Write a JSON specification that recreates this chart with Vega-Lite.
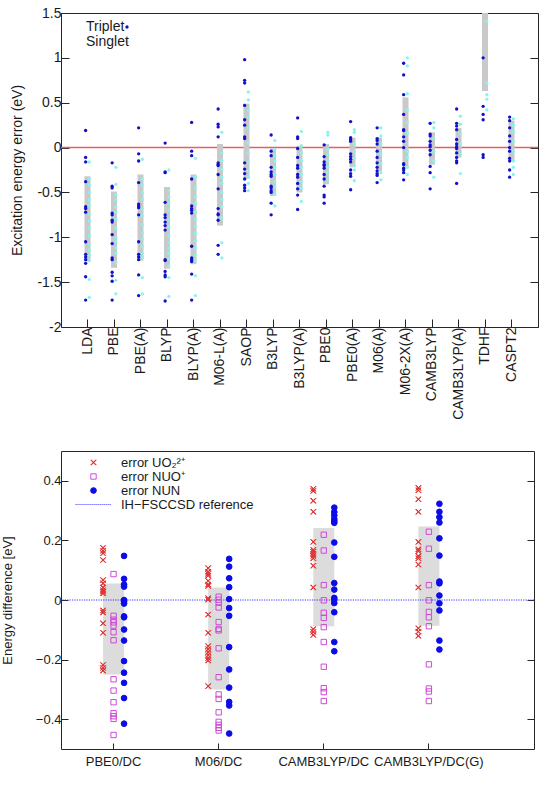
{
  "$schema": "https://vega.github.io/schema/vega-lite/v6.json",
  "background": "white",
  "padding": {"left": 0, "top": 5, "right": 2, "bottom": 2},
  "bounds": "flush",
  "spacing": 124,
  "resolve": {"scale": {"xOffset": "independent", "color": "independent", "stroke": "independent", "shape": "independent", "fill": "independent", "size": "independent"}},
  "config": {
    "font": "Liberation Sans",
    "view": {"stroke": "#262626", "strokeWidth": 1},
    "axis": {"grid": false, "domain": false, "labelColor": "#1a1a1a", "titleColor": "#1a1a1a", "tickColor": "#262626", "titleFontWeight": "normal"}
  },
  "datasets": {
    "exc": [
      {"m":"LDA","s":"S","v":-0.16},{"m":"LDA","s":"S","v":-0.35},{"m":"LDA","s":"S","v":-0.42},{"m":"LDA","s":"S","v":-0.5},{"m":"LDA","s":"S","v":-0.58},{"m":"LDA","s":"S","v":-0.64},{"m":"LDA","s":"S","v":-0.74},{"m":"LDA","s":"S","v":-0.82},{"m":"LDA","s":"S","v":-0.9},{"m":"LDA","s":"S","v":-0.98},{"m":"LDA","s":"S","v":-1.08},{"m":"LDA","s":"S","v":-1.14},{"m":"LDA","s":"S","v":-1.2},{"m":"LDA","s":"S","v":-1.26},{"m":"LDA","s":"S","v":-1.47},{"m":"LDA","s":"S","v":-1.67},
      {"m":"LDA","s":"T","v":0.19},{"m":"LDA","s":"T","v":-0.11},{"m":"LDA","s":"T","v":-0.16},{"m":"LDA","s":"T","v":-0.38},{"m":"LDA","s":"T","v":-0.66},{"m":"LDA","s":"T","v":-0.68},{"m":"LDA","s":"T","v":-0.72},{"m":"LDA","s":"T","v":-1.05},{"m":"LDA","s":"T","v":-1.19},{"m":"LDA","s":"T","v":-1.22},{"m":"LDA","s":"T","v":-1.25},{"m":"LDA","s":"T","v":-1.29},{"m":"LDA","s":"T","v":-1.44},{"m":"LDA","s":"T","v":-1.7},
      {"m":"PBE","s":"S","v":-0.22},{"m":"PBE","s":"S","v":-0.41},{"m":"PBE","s":"S","v":-0.52},{"m":"PBE","s":"S","v":-0.58},{"m":"PBE","s":"S","v":-0.66},{"m":"PBE","s":"S","v":-0.72},{"m":"PBE","s":"S","v":-0.8},{"m":"PBE","s":"S","v":-0.9},{"m":"PBE","s":"S","v":-1.0},{"m":"PBE","s":"S","v":-1.05},{"m":"PBE","s":"S","v":-1.12},{"m":"PBE","s":"S","v":-1.18},{"m":"PBE","s":"S","v":-1.28},{"m":"PBE","s":"S","v":-1.48},{"m":"PBE","s":"S","v":-1.63},
      {"m":"PBE","s":"T","v":-0.17},{"m":"PBE","s":"T","v":-0.43},{"m":"PBE","s":"T","v":-0.45},{"m":"PBE","s":"T","v":-0.73},{"m":"PBE","s":"T","v":-0.75},{"m":"PBE","s":"T","v":-0.81},{"m":"PBE","s":"T","v":-0.83},{"m":"PBE","s":"T","v":-0.97},{"m":"PBE","s":"T","v":-1.07},{"m":"PBE","s":"T","v":-1.23},{"m":"PBE","s":"T","v":-1.25},{"m":"PBE","s":"T","v":-1.39},{"m":"PBE","s":"T","v":-1.43},{"m":"PBE","s":"T","v":-1.49},{"m":"PBE","s":"T","v":-1.7},
      {"m":"PBE(A)","s":"S","v":-0.13},{"m":"PBE(A)","s":"S","v":-0.35},{"m":"PBE(A)","s":"S","v":-0.42},{"m":"PBE(A)","s":"S","v":-0.5},{"m":"PBE(A)","s":"S","v":-0.58},{"m":"PBE(A)","s":"S","v":-0.68},{"m":"PBE(A)","s":"S","v":-0.76},{"m":"PBE(A)","s":"S","v":-0.86},{"m":"PBE(A)","s":"S","v":-0.95},{"m":"PBE(A)","s":"S","v":-1.02},{"m":"PBE(A)","s":"S","v":-1.1},{"m":"PBE(A)","s":"S","v":-1.18},{"m":"PBE(A)","s":"S","v":-1.22},{"m":"PBE(A)","s":"S","v":-1.45},{"m":"PBE(A)","s":"S","v":-1.63},
      {"m":"PBE(A)","s":"T","v":0.22},{"m":"PBE(A)","s":"T","v":-0.07},{"m":"PBE(A)","s":"T","v":-0.15},{"m":"PBE(A)","s":"T","v":-0.39},{"m":"PBE(A)","s":"T","v":-0.63},{"m":"PBE(A)","s":"T","v":-0.65},{"m":"PBE(A)","s":"T","v":-0.67},{"m":"PBE(A)","s":"T","v":-0.75},{"m":"PBE(A)","s":"T","v":-1.05},{"m":"PBE(A)","s":"T","v":-1.19},{"m":"PBE(A)","s":"T","v":-1.22},{"m":"PBE(A)","s":"T","v":-1.25},{"m":"PBE(A)","s":"T","v":-1.42},{"m":"PBE(A)","s":"T","v":-1.65},
      {"m":"BLYP","s":"S","v":-0.25},{"m":"BLYP","s":"S","v":-0.48},{"m":"BLYP","s":"S","v":-0.55},{"m":"BLYP","s":"S","v":-0.62},{"m":"BLYP","s":"S","v":-0.7},{"m":"BLYP","s":"S","v":-0.8},{"m":"BLYP","s":"S","v":-0.88},{"m":"BLYP","s":"S","v":-0.98},{"m":"BLYP","s":"S","v":-1.06},{"m":"BLYP","s":"S","v":-1.12},{"m":"BLYP","s":"S","v":-1.18},{"m":"BLYP","s":"S","v":-1.24},{"m":"BLYP","s":"S","v":-1.32},{"m":"BLYP","s":"S","v":-1.45},{"m":"BLYP","s":"S","v":-1.66},
      {"m":"BLYP","s":"T","v":0.05},{"m":"BLYP","s":"T","v":-0.27},{"m":"BLYP","s":"T","v":-0.28},{"m":"BLYP","s":"T","v":-0.61},{"m":"BLYP","s":"T","v":-0.75},{"m":"BLYP","s":"T","v":-0.78},{"m":"BLYP","s":"T","v":-0.83},{"m":"BLYP","s":"T","v":-0.87},{"m":"BLYP","s":"T","v":-0.92},{"m":"BLYP","s":"T","v":-1.25},{"m":"BLYP","s":"T","v":-1.26},{"m":"BLYP","s":"T","v":-1.38},{"m":"BLYP","s":"T","v":-1.42},{"m":"BLYP","s":"T","v":-1.44},{"m":"BLYP","s":"T","v":-1.71},
      {"m":"BLYP(A)","s":"S","v":-0.12},{"m":"BLYP(A)","s":"S","v":-0.33},{"m":"BLYP(A)","s":"S","v":-0.45},{"m":"BLYP(A)","s":"S","v":-0.55},{"m":"BLYP(A)","s":"S","v":-0.62},{"m":"BLYP(A)","s":"S","v":-0.72},{"m":"BLYP(A)","s":"S","v":-0.8},{"m":"BLYP(A)","s":"S","v":-0.88},{"m":"BLYP(A)","s":"S","v":-0.96},{"m":"BLYP(A)","s":"S","v":-1.04},{"m":"BLYP(A)","s":"S","v":-1.12},{"m":"BLYP(A)","s":"S","v":-1.2},{"m":"BLYP(A)","s":"S","v":-1.26},{"m":"BLYP(A)","s":"S","v":-1.43},{"m":"BLYP(A)","s":"S","v":-1.65},
      {"m":"BLYP(A)","s":"T","v":0.28},{"m":"BLYP(A)","s":"T","v":-0.04},{"m":"BLYP(A)","s":"T","v":-0.09},{"m":"BLYP(A)","s":"T","v":-0.35},{"m":"BLYP(A)","s":"T","v":-0.65},{"m":"BLYP(A)","s":"T","v":-0.68},{"m":"BLYP(A)","s":"T","v":-0.7},{"m":"BLYP(A)","s":"T","v":-0.73},{"m":"BLYP(A)","s":"T","v":-1.1},{"m":"BLYP(A)","s":"T","v":-1.23},{"m":"BLYP(A)","s":"T","v":-1.25},{"m":"BLYP(A)","s":"T","v":-1.27},{"m":"BLYP(A)","s":"T","v":-1.41},{"m":"BLYP(A)","s":"T","v":-1.7},
      {"m":"M06-L(A)","s":"S","v":0.17},{"m":"M06-L(A)","s":"S","v":-0.06},{"m":"M06-L(A)","s":"S","v":-0.14},{"m":"M06-L(A)","s":"S","v":-0.24},{"m":"M06-L(A)","s":"S","v":-0.33},{"m":"M06-L(A)","s":"S","v":-0.4},{"m":"M06-L(A)","s":"S","v":-0.5},{"m":"M06-L(A)","s":"S","v":-0.58},{"m":"M06-L(A)","s":"S","v":-0.66},{"m":"M06-L(A)","s":"S","v":-0.78},{"m":"M06-L(A)","s":"S","v":-1.06},{"m":"M06-L(A)","s":"S","v":-1.23},
      {"m":"M06-L(A)","s":"T","v":0.43},{"m":"M06-L(A)","s":"T","v":0.26},{"m":"M06-L(A)","s":"T","v":0.23},{"m":"M06-L(A)","s":"T","v":0.12},{"m":"M06-L(A)","s":"T","v":-0.17},{"m":"M06-L(A)","s":"T","v":-0.19},{"m":"M06-L(A)","s":"T","v":-0.2},{"m":"M06-L(A)","s":"T","v":-0.3},{"m":"M06-L(A)","s":"T","v":-0.46},{"m":"M06-L(A)","s":"T","v":-0.68},{"m":"M06-L(A)","s":"T","v":-0.74},{"m":"M06-L(A)","s":"T","v":-0.75},{"m":"M06-L(A)","s":"T","v":-0.81},{"m":"M06-L(A)","s":"T","v":-1.09},{"m":"M06-L(A)","s":"T","v":-1.19},
      {"m":"SAOP","s":"S","v":0.62},{"m":"SAOP","s":"S","v":0.53},{"m":"SAOP","s":"S","v":0.42},{"m":"SAOP","s":"S","v":0.34},{"m":"SAOP","s":"S","v":0.22},{"m":"SAOP","s":"S","v":0.05},{"m":"SAOP","s":"S","v":-0.06},{"m":"SAOP","s":"S","v":-0.16},{"m":"SAOP","s":"S","v":-0.26},{"m":"SAOP","s":"S","v":-0.33},{"m":"SAOP","s":"S","v":-0.4},{"m":"SAOP","s":"S","v":-0.48},
      {"m":"SAOP","s":"T","v":0.98},{"m":"SAOP","s":"T","v":0.75},{"m":"SAOP","s":"T","v":0.72},{"m":"SAOP","s":"T","v":0.47},{"m":"SAOP","s":"T","v":0.31},{"m":"SAOP","s":"T","v":0.25},{"m":"SAOP","s":"T","v":0.12},{"m":"SAOP","s":"T","v":0.1},{"m":"SAOP","s":"T","v":-0.17},{"m":"SAOP","s":"T","v":-0.24},{"m":"SAOP","s":"T","v":-0.29},{"m":"SAOP","s":"T","v":-0.35},{"m":"SAOP","s":"T","v":-0.42},{"m":"SAOP","s":"T","v":-0.45},{"m":"SAOP","s":"T","v":-0.48},
      {"m":"B3LYP","s":"S","v":0.08},{"m":"B3LYP","s":"S","v":-0.02},{"m":"B3LYP","s":"S","v":-0.09},{"m":"B3LYP","s":"S","v":-0.15},{"m":"B3LYP","s":"S","v":-0.22},{"m":"B3LYP","s":"S","v":-0.3},{"m":"B3LYP","s":"S","v":-0.38},{"m":"B3LYP","s":"S","v":-0.44},{"m":"B3LYP","s":"S","v":-0.52},{"m":"B3LYP","s":"S","v":-0.65},
      {"m":"B3LYP","s":"T","v":0.14},{"m":"B3LYP","s":"T","v":-0.04},{"m":"B3LYP","s":"T","v":-0.09},{"m":"B3LYP","s":"T","v":-0.22},{"m":"B3LYP","s":"T","v":-0.27},{"m":"B3LYP","s":"T","v":-0.3},{"m":"B3LYP","s":"T","v":-0.32},{"m":"B3LYP","s":"T","v":-0.43},{"m":"B3LYP","s":"T","v":-0.45},{"m":"B3LYP","s":"T","v":-0.48},{"m":"B3LYP","s":"T","v":-0.5},{"m":"B3LYP","s":"T","v":-0.62},{"m":"B3LYP","s":"T","v":-0.75},
      {"m":"B3LYP(A)","s":"S","v":0.18},{"m":"B3LYP(A)","s":"S","v":0.02},{"m":"B3LYP(A)","s":"S","v":-0.06},{"m":"B3LYP(A)","s":"S","v":-0.14},{"m":"B3LYP(A)","s":"S","v":-0.22},{"m":"B3LYP(A)","s":"S","v":-0.3},{"m":"B3LYP(A)","s":"S","v":-0.38},{"m":"B3LYP(A)","s":"S","v":-0.45},{"m":"B3LYP(A)","s":"S","v":-0.6},
      {"m":"B3LYP(A)","s":"T","v":0.33},{"m":"B3LYP(A)","s":"T","v":0.12},{"m":"B3LYP(A)","s":"T","v":0.1},{"m":"B3LYP(A)","s":"T","v":-0.01},{"m":"B3LYP(A)","s":"T","v":-0.11},{"m":"B3LYP(A)","s":"T","v":-0.2},{"m":"B3LYP(A)","s":"T","v":-0.23},{"m":"B3LYP(A)","s":"T","v":-0.3},{"m":"B3LYP(A)","s":"T","v":-0.33},{"m":"B3LYP(A)","s":"T","v":-0.4},{"m":"B3LYP(A)","s":"T","v":-0.46},{"m":"B3LYP(A)","s":"T","v":-0.53},{"m":"B3LYP(A)","s":"T","v":-0.69},
      {"m":"PBE0","s":"S","v":0.17},{"m":"PBE0","s":"S","v":0.14},{"m":"PBE0","s":"S","v":-0.02},{"m":"PBE0","s":"S","v":-0.08},{"m":"PBE0","s":"S","v":-0.14},{"m":"PBE0","s":"S","v":-0.22},{"m":"PBE0","s":"S","v":-0.28},{"m":"PBE0","s":"S","v":-0.36},
      {"m":"PBE0","s":"T","v":0.03},{"m":"PBE0","s":"T","v":-0.1},{"m":"PBE0","s":"T","v":-0.16},{"m":"PBE0","s":"T","v":-0.19},{"m":"PBE0","s":"T","v":-0.2},{"m":"PBE0","s":"T","v":-0.23},{"m":"PBE0","s":"T","v":-0.3},{"m":"PBE0","s":"T","v":-0.35},{"m":"PBE0","s":"T","v":-0.43},{"m":"PBE0","s":"T","v":-0.53},{"m":"PBE0","s":"T","v":-0.55},{"m":"PBE0","s":"T","v":-0.62},
      {"m":"PBE0(A)","s":"S","v":0.2},{"m":"PBE0(A)","s":"S","v":0.17},{"m":"PBE0(A)","s":"S","v":0.04},{"m":"PBE0(A)","s":"S","v":-0.04},{"m":"PBE0(A)","s":"S","v":-0.12},{"m":"PBE0(A)","s":"S","v":-0.2},{"m":"PBE0(A)","s":"S","v":-0.25},{"m":"PBE0(A)","s":"S","v":-0.37},
      {"m":"PBE0(A)","s":"T","v":0.29},{"m":"PBE0(A)","s":"T","v":0.11},{"m":"PBE0(A)","s":"T","v":0.09},{"m":"PBE0(A)","s":"T","v":0.07},{"m":"PBE0(A)","s":"T","v":-0.07},{"m":"PBE0(A)","s":"T","v":-0.1},{"m":"PBE0(A)","s":"T","v":-0.13},{"m":"PBE0(A)","s":"T","v":-0.16},{"m":"PBE0(A)","s":"T","v":-0.25},{"m":"PBE0(A)","s":"T","v":-0.29},{"m":"PBE0(A)","s":"T","v":-0.32},{"m":"PBE0(A)","s":"T","v":-0.47},
      {"m":"M06(A)","s":"S","v":0.22},{"m":"M06(A)","s":"S","v":0.13},{"m":"M06(A)","s":"S","v":0.04},{"m":"M06(A)","s":"S","v":-0.07},{"m":"M06(A)","s":"S","v":-0.18},{"m":"M06(A)","s":"S","v":-0.28},{"m":"M06(A)","s":"S","v":-0.36},
      {"m":"M06(A)","s":"T","v":0.22},{"m":"M06(A)","s":"T","v":0.1},{"m":"M06(A)","s":"T","v":0.08},{"m":"M06(A)","s":"T","v":0.04},{"m":"M06(A)","s":"T","v":-0.04},{"m":"M06(A)","s":"T","v":-0.11},{"m":"M06(A)","s":"T","v":-0.17},{"m":"M06(A)","s":"T","v":-0.22},{"m":"M06(A)","s":"T","v":-0.26},{"m":"M06(A)","s":"T","v":-0.29},{"m":"M06(A)","s":"T","v":-0.31},{"m":"M06(A)","s":"T","v":-0.39},
      {"m":"M06-2X(A)","s":"S","v":1.0},{"m":"M06-2X(A)","s":"S","v":0.91},{"m":"M06-2X(A)","s":"S","v":0.6},{"m":"M06-2X(A)","s":"S","v":0.42},{"m":"M06-2X(A)","s":"S","v":0.28},{"m":"M06-2X(A)","s":"S","v":0.16},{"m":"M06-2X(A)","s":"S","v":-0.04},{"m":"M06-2X(A)","s":"S","v":-0.11},{"m":"M06-2X(A)","s":"S","v":-0.22},{"m":"M06-2X(A)","s":"S","v":-0.3},
      {"m":"M06-2X(A)","s":"T","v":0.94},{"m":"M06-2X(A)","s":"T","v":0.81},{"m":"M06-2X(A)","s":"T","v":0.59},{"m":"M06-2X(A)","s":"T","v":0.37},{"m":"M06-2X(A)","s":"T","v":0.2},{"m":"M06-2X(A)","s":"T","v":0.19},{"m":"M06-2X(A)","s":"T","v":0.12},{"m":"M06-2X(A)","s":"T","v":0.07},{"m":"M06-2X(A)","s":"T","v":0.0},{"m":"M06-2X(A)","s":"T","v":-0.18},{"m":"M06-2X(A)","s":"T","v":-0.19},{"m":"M06-2X(A)","s":"T","v":-0.23},{"m":"M06-2X(A)","s":"T","v":-0.25},{"m":"M06-2X(A)","s":"T","v":-0.28},{"m":"M06-2X(A)","s":"T","v":-0.36},
      {"m":"CAMB3LYP","s":"S","v":0.28},{"m":"CAMB3LYP","s":"S","v":0.22},{"m":"CAMB3LYP","s":"S","v":0.1},{"m":"CAMB3LYP","s":"S","v":-0.04},{"m":"CAMB3LYP","s":"S","v":-0.15},{"m":"CAMB3LYP","s":"S","v":-0.33},
      {"m":"CAMB3LYP","s":"T","v":0.27},{"m":"CAMB3LYP","s":"T","v":0.15},{"m":"CAMB3LYP","s":"T","v":0.13},{"m":"CAMB3LYP","s":"T","v":0.07},{"m":"CAMB3LYP","s":"T","v":0.03},{"m":"CAMB3LYP","s":"T","v":0.01},{"m":"CAMB3LYP","s":"T","v":-0.03},{"m":"CAMB3LYP","s":"T","v":-0.08},{"m":"CAMB3LYP","s":"T","v":-0.21},{"m":"CAMB3LYP","s":"T","v":-0.28},{"m":"CAMB3LYP","s":"T","v":-0.46},
      {"m":"CAMB3LYP(A)","s":"S","v":0.35},{"m":"CAMB3LYP(A)","s":"S","v":0.26},{"m":"CAMB3LYP(A)","s":"S","v":0.15},{"m":"CAMB3LYP(A)","s":"S","v":0.04},{"m":"CAMB3LYP(A)","s":"S","v":-0.07},{"m":"CAMB3LYP(A)","s":"S","v":-0.29},
      {"m":"CAMB3LYP(A)","s":"T","v":0.43},{"m":"CAMB3LYP(A)","s":"T","v":0.27},{"m":"CAMB3LYP(A)","s":"T","v":0.24},{"m":"CAMB3LYP(A)","s":"T","v":0.2},{"m":"CAMB3LYP(A)","s":"T","v":0.09},{"m":"CAMB3LYP(A)","s":"T","v":0.04},{"m":"CAMB3LYP(A)","s":"T","v":0.01},{"m":"CAMB3LYP(A)","s":"T","v":-0.01},{"m":"CAMB3LYP(A)","s":"T","v":-0.06},{"m":"CAMB3LYP(A)","s":"T","v":-0.11},{"m":"CAMB3LYP(A)","s":"T","v":-0.15},{"m":"CAMB3LYP(A)","s":"T","v":-0.17},{"m":"CAMB3LYP(A)","s":"T","v":-0.4},
      {"m":"TDHF","s":"S","v":1.41},{"m":"TDHF","s":"S","v":0.72},{"m":"TDHF","s":"S","v":0.59},{"m":"TDHF","s":"S","v":0.54},{"m":"TDHF","s":"S","v":0.42},
      {"m":"TDHF","s":"T","v":1.0},{"m":"TDHF","s":"T","v":0.46},{"m":"TDHF","s":"T","v":0.37},{"m":"TDHF","s":"T","v":0.31},{"m":"TDHF","s":"T","v":-0.08},{"m":"TDHF","s":"T","v":-0.11},
      {"m":"CASPT2","s":"S","v":0.32},{"m":"CASPT2","s":"S","v":0.25},{"m":"CASPT2","s":"S","v":0.18},{"m":"CASPT2","s":"S","v":0.07},{"m":"CASPT2","s":"S","v":-0.04},{"m":"CASPT2","s":"S","v":-0.15},{"m":"CASPT2","s":"S","v":-0.22},{"m":"CASPT2","s":"S","v":-0.3},
      {"m":"CASPT2","s":"T","v":0.34},{"m":"CASPT2","s":"T","v":0.3},{"m":"CASPT2","s":"T","v":0.22},{"m":"CASPT2","s":"T","v":0.13},{"m":"CASPT2","s":"T","v":0.07},{"m":"CASPT2","s":"T","v":0.0},{"m":"CASPT2","s":"T","v":-0.04},{"m":"CASPT2","s":"T","v":-0.12},{"m":"CASPT2","s":"T","v":-0.15},{"m":"CASPT2","s":"T","v":-0.25},{"m":"CASPT2","s":"T","v":-0.33}
    ],
    "excBar": [
      {"m":"LDA","lo":-1.27,"hi":-0.32},{"m":"PBE","lo":-1.34,"hi":-0.49},{"m":"PBE(A)","lo":-1.26,"hi":-0.3},{"m":"BLYP","lo":-1.35,"hi":-0.44},{"m":"BLYP(A)","lo":-1.3,"hi":-0.3},{"m":"M06-L(A)","lo":-0.87,"hi":0.04},{"m":"SAOP","lo":-0.35,"hi":0.49},{"m":"B3LYP","lo":-0.54,"hi":-0.01},{"m":"B3LYP(A)","lo":-0.5,"hi":0.02},{"m":"PBE0","lo":-0.41,"hi":0.04},{"m":"PBE0(A)","lo":-0.22,"hi":0.11},{"m":"M06(A)","lo":-0.26,"hi":0.11},{"m":"M06-2X(A)","lo":-0.22,"hi":0.56},{"m":"CAMB3LYP","lo":-0.19,"hi":0.17},{"m":"CAMB3LYP(A)","lo":-0.11,"hi":0.22},{"m":"TDHF","lo":0.63,"hi":1.9},{"m":"CASPT2","lo":-0.15,"hi":0.3}
    ],
    "act": [
      {"m":"PBE0/DC","s":"U","v":0.175},{"m":"PBE0/DC","s":"U","v":0.165},{"m":"PBE0/DC","s":"U","v":0.157},{"m":"PBE0/DC","s":"U","v":0.134},{"m":"PBE0/DC","s":"U","v":0.067},{"m":"PBE0/DC","s":"U","v":0.056},{"m":"PBE0/DC","s":"U","v":0.042},{"m":"PBE0/DC","s":"U","v":0.033},{"m":"PBE0/DC","s":"U","v":0.028},{"m":"PBE0/DC","s":"U","v":0.022},{"m":"PBE0/DC","s":"U","v":-0.035},{"m":"PBE0/DC","s":"U","v":-0.042},{"m":"PBE0/DC","s":"U","v":-0.078},{"m":"PBE0/DC","s":"U","v":-0.11},{"m":"PBE0/DC","s":"U","v":-0.218},{"m":"PBE0/DC","s":"U","v":-0.228},{"m":"PBE0/DC","s":"U","v":-0.237},
      {"m":"PBE0/DC","s":"O","v":0.087},{"m":"PBE0/DC","s":"O","v":-0.053},{"m":"PBE0/DC","s":"O","v":-0.066},{"m":"PBE0/DC","s":"O","v":-0.075},{"m":"PBE0/DC","s":"O","v":-0.086},{"m":"PBE0/DC","s":"O","v":-0.108},{"m":"PBE0/DC","s":"O","v":-0.135},{"m":"PBE0/DC","s":"O","v":-0.266},{"m":"PBE0/DC","s":"O","v":-0.304},{"m":"PBE0/DC","s":"O","v":-0.343},{"m":"PBE0/DC","s":"O","v":-0.38},{"m":"PBE0/DC","s":"O","v":-0.39},{"m":"PBE0/DC","s":"O","v":-0.399},{"m":"PBE0/DC","s":"O","v":-0.453},
      {"m":"PBE0/DC","s":"N","v":0.148},{"m":"PBE0/DC","s":"N","v":0.071},{"m":"PBE0/DC","s":"N","v":0.052},{"m":"PBE0/DC","s":"N","v":0.045},{"m":"PBE0/DC","s":"N","v":0.0},{"m":"PBE0/DC","s":"N","v":-0.006},{"m":"PBE0/DC","s":"N","v":-0.012},{"m":"PBE0/DC","s":"N","v":-0.055},{"m":"PBE0/DC","s":"N","v":-0.058},{"m":"PBE0/DC","s":"N","v":-0.099},{"m":"PBE0/DC","s":"N","v":-0.136},{"m":"PBE0/DC","s":"N","v":-0.205},{"m":"PBE0/DC","s":"N","v":-0.244},{"m":"PBE0/DC","s":"N","v":-0.278},{"m":"PBE0/DC","s":"N","v":-0.329},{"m":"PBE0/DC","s":"N","v":-0.415},
      {"m":"M06/DC","s":"U","v":0.107},{"m":"M06/DC","s":"U","v":0.095},{"m":"M06/DC","s":"U","v":0.088},{"m":"M06/DC","s":"U","v":0.082},{"m":"M06/DC","s":"U","v":0.064},{"m":"M06/DC","s":"U","v":0.052},{"m":"M06/DC","s":"U","v":0.047},{"m":"M06/DC","s":"U","v":0.006},{"m":"M06/DC","s":"U","v":0.001},{"m":"M06/DC","s":"U","v":-0.049},{"m":"M06/DC","s":"U","v":-0.11},{"m":"M06/DC","s":"U","v":-0.155},{"m":"M06/DC","s":"U","v":-0.165},{"m":"M06/DC","s":"U","v":-0.175},{"m":"M06/DC","s":"U","v":-0.185},{"m":"M06/DC","s":"U","v":-0.195},{"m":"M06/DC","s":"U","v":-0.203},{"m":"M06/DC","s":"U","v":-0.289},
      {"m":"M06/DC","s":"O","v":0.011},{"m":"M06/DC","s":"O","v":0.001},{"m":"M06/DC","s":"O","v":-0.009},{"m":"M06/DC","s":"O","v":-0.025},{"m":"M06/DC","s":"O","v":-0.074},{"m":"M06/DC","s":"O","v":-0.097},{"m":"M06/DC","s":"O","v":-0.102},{"m":"M06/DC","s":"O","v":-0.162},{"m":"M06/DC","s":"O","v":-0.259},{"m":"M06/DC","s":"O","v":-0.317},{"m":"M06/DC","s":"O","v":-0.332},{"m":"M06/DC","s":"O","v":-0.377},{"m":"M06/DC","s":"O","v":-0.409},{"m":"M06/DC","s":"O","v":-0.419},{"m":"M06/DC","s":"O","v":-0.429},{"m":"M06/DC","s":"O","v":-0.438},
      {"m":"M06/DC","s":"N","v":0.138},{"m":"M06/DC","s":"N","v":0.112},{"m":"M06/DC","s":"N","v":0.073},{"m":"M06/DC","s":"N","v":0.043},{"m":"M06/DC","s":"N","v":0.003},{"m":"M06/DC","s":"N","v":-0.027},{"m":"M06/DC","s":"N","v":-0.053},{"m":"M06/DC","s":"N","v":-0.158},{"m":"M06/DC","s":"N","v":-0.233},{"m":"M06/DC","s":"N","v":-0.294},{"m":"M06/DC","s":"N","v":-0.342},{"m":"M06/DC","s":"N","v":-0.354},{"m":"M06/DC","s":"N","v":-0.448},
      {"m":"CAMB3LYP/DC","s":"U","v":0.373},{"m":"CAMB3LYP/DC","s":"U","v":0.366},{"m":"CAMB3LYP/DC","s":"U","v":0.333},{"m":"CAMB3LYP/DC","s":"U","v":0.296},{"m":"CAMB3LYP/DC","s":"U","v":0.195},{"m":"CAMB3LYP/DC","s":"U","v":0.168},{"m":"CAMB3LYP/DC","s":"U","v":0.162},{"m":"CAMB3LYP/DC","s":"U","v":0.155},{"m":"CAMB3LYP/DC","s":"U","v":0.148},{"m":"CAMB3LYP/DC","s":"U","v":0.14},{"m":"CAMB3LYP/DC","s":"U","v":0.115},{"m":"CAMB3LYP/DC","s":"U","v":0.042},{"m":"CAMB3LYP/DC","s":"U","v":-0.098},{"m":"CAMB3LYP/DC","s":"U","v":-0.107},{"m":"CAMB3LYP/DC","s":"U","v":-0.117},
      {"m":"CAMB3LYP/DC","s":"O","v":0.219},{"m":"CAMB3LYP/DC","s":"O","v":0.166},{"m":"CAMB3LYP/DC","s":"O","v":0.05},{"m":"CAMB3LYP/DC","s":"O","v":-0.001},{"m":"CAMB3LYP/DC","s":"O","v":-0.043},{"m":"CAMB3LYP/DC","s":"O","v":-0.06},{"m":"CAMB3LYP/DC","s":"O","v":-0.091},{"m":"CAMB3LYP/DC","s":"O","v":-0.141},{"m":"CAMB3LYP/DC","s":"O","v":-0.224},{"m":"CAMB3LYP/DC","s":"O","v":-0.296},{"m":"CAMB3LYP/DC","s":"O","v":-0.309},{"m":"CAMB3LYP/DC","s":"O","v":-0.339},
      {"m":"CAMB3LYP/DC","s":"N","v":0.31},{"m":"CAMB3LYP/DC","s":"N","v":0.295},{"m":"CAMB3LYP/DC","s":"N","v":0.284},{"m":"CAMB3LYP/DC","s":"N","v":0.272},{"m":"CAMB3LYP/DC","s":"N","v":0.265},{"m":"CAMB3LYP/DC","s":"N","v":0.259},{"m":"CAMB3LYP/DC","s":"N","v":0.193},{"m":"CAMB3LYP/DC","s":"N","v":0.145},{"m":"CAMB3LYP/DC","s":"N","v":0.057},{"m":"CAMB3LYP/DC","s":"N","v":0.035},{"m":"CAMB3LYP/DC","s":"N","v":0.007},{"m":"CAMB3LYP/DC","s":"N","v":0.001},{"m":"CAMB3LYP/DC","s":"N","v":-0.01},{"m":"CAMB3LYP/DC","s":"N","v":-0.041},{"m":"CAMB3LYP/DC","s":"N","v":-0.141},{"m":"CAMB3LYP/DC","s":"N","v":-0.172},
      {"m":"CAMB3LYP/DC(G)","s":"U","v":0.376},{"m":"CAMB3LYP/DC(G)","s":"U","v":0.368},{"m":"CAMB3LYP/DC(G)","s":"U","v":0.338},{"m":"CAMB3LYP/DC(G)","s":"U","v":0.296},{"m":"CAMB3LYP/DC(G)","s":"U","v":0.195},{"m":"CAMB3LYP/DC(G)","s":"U","v":0.17},{"m":"CAMB3LYP/DC(G)","s":"U","v":0.164},{"m":"CAMB3LYP/DC(G)","s":"U","v":0.147},{"m":"CAMB3LYP/DC(G)","s":"U","v":0.14},{"m":"CAMB3LYP/DC(G)","s":"U","v":0.119},{"m":"CAMB3LYP/DC(G)","s":"U","v":0.042},{"m":"CAMB3LYP/DC(G)","s":"U","v":-0.095},{"m":"CAMB3LYP/DC(G)","s":"U","v":-0.106},{"m":"CAMB3LYP/DC(G)","s":"U","v":-0.12},
      {"m":"CAMB3LYP/DC(G)","s":"O","v":0.229},{"m":"CAMB3LYP/DC(G)","s":"O","v":0.172},{"m":"CAMB3LYP/DC(G)","s":"O","v":0.05},{"m":"CAMB3LYP/DC(G)","s":"O","v":-0.001},{"m":"CAMB3LYP/DC(G)","s":"O","v":-0.04},{"m":"CAMB3LYP/DC(G)","s":"O","v":-0.058},{"m":"CAMB3LYP/DC(G)","s":"O","v":-0.088},{"m":"CAMB3LYP/DC(G)","s":"O","v":-0.216},{"m":"CAMB3LYP/DC(G)","s":"O","v":-0.297},{"m":"CAMB3LYP/DC(G)","s":"O","v":-0.307},{"m":"CAMB3LYP/DC(G)","s":"O","v":-0.339},
      {"m":"CAMB3LYP/DC(G)","s":"N","v":0.323},{"m":"CAMB3LYP/DC(G)","s":"N","v":0.296},{"m":"CAMB3LYP/DC(G)","s":"N","v":0.278},{"m":"CAMB3LYP/DC(G)","s":"N","v":0.26},{"m":"CAMB3LYP/DC(G)","s":"N","v":0.207},{"m":"CAMB3LYP/DC(G)","s":"N","v":0.149},{"m":"CAMB3LYP/DC(G)","s":"N","v":0.062},{"m":"CAMB3LYP/DC(G)","s":"N","v":0.056},{"m":"CAMB3LYP/DC(G)","s":"N","v":0.015},{"m":"CAMB3LYP/DC(G)","s":"N","v":-0.011},{"m":"CAMB3LYP/DC(G)","s":"N","v":-0.035},{"m":"CAMB3LYP/DC(G)","s":"N","v":-0.136},{"m":"CAMB3LYP/DC(G)","s":"N","v":-0.166}
    ],
    "actBox": [
      {"m":"PBE0/DC","lo":-0.25,"hi":0.055},{"m":"M06/DC","lo":-0.3,"hi":0.042},{"m":"CAMB3LYP/DC","lo":-0.088,"hi":0.242},{"m":"CAMB3LYP/DC(G)","lo":-0.086,"hi":0.247}
    ]
  },
  "vconcat": [
    {
      "width": 477,
      "height": 314,
      "layer": [
        {
          "data": {"values": [{}]},
          "mark": {"type": "rule", "color": "#e5605c", "strokeWidth": 1.4},
          "encoding": {
            "y": {"datum": 0, "type": "quantitative", "scale": {"domain": [-2, 1.5], "nice": false, "zero": false},
                  "axis": {"orient": "right", "values": [-2, -1.5, -1, -0.5, 0, 0.5, 1, 1.5], "labels": false, "title": null, "tickSize": -8}}
          }
        },
        {
          "data": {"name": "excBar"},
          "mark": {"type": "bar", "color": "#c9c9c9", "width": 6, "clip": true},
          "encoding": {
            "x": {"field": "m", "type": "nominal", "sort": null,
                  "scale": {"type": "band", "paddingInner": 0, "paddingOuter": 0.5, "domain": ["LDA","PBE","PBE(A)","BLYP","BLYP(A)","M06-L(A)","SAOP","B3LYP","B3LYP(A)","PBE0","PBE0(A)","M06(A)","M06-2X(A)","CAMB3LYP","CAMB3LYP(A)","TDHF","CASPT2"]},
                  "axis": {"title": null, "labelAngle": -90, "labelFontSize": 14, "tickSize": -8, "labelPadding": 8}},
            "y": {"field": "lo", "type": "quantitative", "scale": {"domain": [-2, 1.5], "nice": false, "zero": false},
                  "axis": {"orient": "left", "values": [-2, -1.5, -1, -0.5, 0, 0.5, 1, 1.5], "format": ".1~f", "labelExpr": "replace(datum.label, '−', '-')", "labelFontSize": 14, "tickSize": -8, "labelPadding": 8, "title": "Excitation energy error (eV)", "titleFontSize": 14, "titlePadding": 12}},
            "y2": {"field": "hi"}
          }
        },
        {
          "data": {"name": "exc"},
          "mark": {"type": "circle", "size": 11, "opacity": 1},
          "encoding": {
            "x": {"field": "m", "type": "nominal", "sort": null,
                  "scale": {"type": "band", "paddingInner": 0, "paddingOuter": 0.5, "domain": ["LDA","PBE","PBE(A)","BLYP","BLYP(A)","M06-L(A)","SAOP","B3LYP","B3LYP(A)","PBE0","PBE0(A)","M06(A)","M06-2X(A)","CAMB3LYP","CAMB3LYP(A)","TDHF","CASPT2"]},
                  "axis": {"title": null, "labelAngle": -90, "labelFontSize": 14, "tickSize": -8, "labelPadding": 8}},
            "xOffset": {"field": "s", "type": "nominal", "scale": {"type": "point", "padding": 0, "domain": ["T", "S"], "range": [11.4, 15.1]}},
            "y": {"field": "v", "type": "quantitative", "scale": {"domain": [-2, 1.5], "nice": false, "zero": false}, "axis": null},
            "color": {"field": "s", "type": "nominal", "scale": {"domain": ["T", "S"], "range": ["#1111cc", "#88f4ec"]},
                      "legend": {"orient": "none", "legendX": 59, "legendY": 7, "title": null, "padding": 0, "rowPadding": 1,
                                 "labelExpr": "datum.value == 'T' ? 'Triplet' : 'Singlet'", "labelFontSize": 14, "labelColor": "#1a1a1a",
                                 "labelAlign": "left", "labelOffset": -48, "symbolSize": 11, "symbolType": "circle", "symbolStrokeWidth": 0}}
          }
        }
      ],
      "resolve": {"axis": {"y": "independent"}}
    },
    {
      "width": 473,
      "height": 298,
      "layer": [
        {
          "data": {"name": "actBox"},
          "mark": {"type": "bar", "color": "#dcdcdc", "width": 21},
          "encoding": {
            "x": {"field": "m", "type": "nominal", "sort": null,
                  "scale": {"type": "band", "paddingInner": 0, "paddingOuter": 0.25, "align": 0, "domain": ["PBE0/DC","M06/DC","CAMB3LYP/DC","CAMB3LYP/DC(G)"]},
                  "axis": {"title": null, "labelAngle": 0, "labelFontSize": 13, "tickSize": -6, "labelPadding": 12}},
            "y": {"field": "lo", "type": "quantitative", "scale": {"domain": [-0.5, 0.5], "nice": false, "zero": false},
                  "axis": {"orient": "left", "values": [-0.4, -0.2, 0, 0.2, 0.4], "format": ".1~f", "labelFontSize": 13, "tickSize": -7, "labelPadding": 7, "title": "Energy difference [eV]", "titleFontSize": 13, "titlePadding": 21}},
            "y2": {"field": "hi"}
          }
        },
        {
          "data": {"values": [{}]},
          "mark": {"type": "rule", "color": "#3434ff", "strokeWidth": 1, "strokeDash": [1.2, 1.2]},
          "encoding": {
            "y": {"datum": 0, "type": "quantitative", "scale": {"domain": [-0.5, 0.5], "nice": false, "zero": false},
                  "axis": {"orient": "right", "values": [-0.4, -0.2, 0, 0.2, 0.4], "labels": false, "title": null, "tickSize": -7}}
          }
        },
        {
          "data": {"name": "act"},
          "mark": {"type": "point", "opacity": 1, "strokeWidth": 1},
          "encoding": {
            "x": {"field": "m", "type": "nominal", "sort": null,
                  "scale": {"type": "band", "paddingInner": 0, "paddingOuter": 0.25, "align": 0, "domain": ["PBE0/DC","M06/DC","CAMB3LYP/DC","CAMB3LYP/DC(G)"]},
                  "axis": {"title": null, "labelAngle": 0, "labelFontSize": 13, "tickSize": -6, "labelPadding": 12}},
            "xOffset": {"field": "s", "type": "nominal", "scale": {"type": "point", "padding": 0, "domain": ["U", "O", "N"], "range": [42.05, 63.07]}},
            "y": {"field": "v", "type": "quantitative", "scale": {"domain": [-0.5, 0.5], "nice": false, "zero": false}, "axis": null},
            "shape": {"field": "s", "type": "nominal",
                      "scale": {"domain": ["U", "O", "N", "R"], "range": ["M-0.943,-1.057L1.057,0.943L0.943,1.057L-1.057,-0.943ZM-0.943,1.057L1.057,-0.943L0.943,-1.057L-1.057,0.943Z", "square", "circle", "M-6,0h0.33m0.34,0h0.33m0.34,0h0.33m0.34,0h0.33m0.34,0h0.33m0.34,0h0.33m0.34,0h0.33m0.34,0h0.33m0.34,0h0.33m0.34,0h0.33m0.34,0h0.33m0.34,0h0.33m0.34,0h0.33m0.34,0h0.33m0.34,0h0.33m0.34,0h0.33m0.34,0h0.33m0.34,0h0.33m0.34,0"]},
                      "legend": {"orient": "none", "legendX": 26, "legendY": 5, "title": null, "padding": 0, "rowPadding": -1,
                                 "labelExpr": "datum.value == 'U' ? 'error UO₂²⁺' : datum.value == 'O' ? 'error NUO⁺' : datum.value == 'N' ? 'error NUN' : 'IH−FSCCSD reference'",
                                 "labelFontSize": 13, "labelColor": "#1a1a1a", "labelOffset": 21, "symbolStrokeWidth": 1,
                                 "encode": {"symbols": {"update": {"stroke": {"signal": "datum.value == 'U' ? '#e03535' : datum.value == 'O' ? '#d04ad6' : datum.value == 'N' ? '#0c0ce8' : '#3434ff'"}, "fill": {"signal": "datum.value == 'U' ? '#e03535' : datum.value == 'N' ? '#0c0ce8' : 'transparent'"}}}}}},
            "stroke": {"field": "s", "type": "nominal", "scale": {"domain": ["U", "O", "N", "R"], "range": ["#e03535", "#d04ad6", "#0c0ce8", "#3434ff"]},
                       "legend": {"orient": "none", "legendX": 26, "legendY": 5, "title": null, "padding": 0, "rowPadding": -1,
                                  "labelExpr": "datum.value == 'U' ? 'error UO₂²⁺' : datum.value == 'O' ? 'error NUO⁺' : datum.value == 'N' ? 'error NUN' : 'IH−FSCCSD reference'",
                                  "labelFontSize": 13, "labelColor": "#1a1a1a", "labelOffset": 21, "symbolStrokeWidth": 1,
                                  "encode": {"symbols": {"update": {"stroke": {"signal": "datum.value == 'U' ? '#e03535' : datum.value == 'O' ? '#d04ad6' : datum.value == 'N' ? '#0c0ce8' : '#3434ff'"}, "fill": {"signal": "datum.value == 'U' ? '#e03535' : datum.value == 'N' ? '#0c0ce8' : 'transparent'"}}}}}},
            "fill": {"field": "s", "type": "nominal", "scale": {"domain": ["U", "O", "N", "R"], "range": ["#e03535", "transparent", "#0c0ce8", "transparent"]}},
            "size": {"field": "s", "type": "nominal", "scale": {"domain": ["U", "O", "N", "R"], "range": [25, 36, 30, 36]}}
          }
        }
      ],
      "resolve": {"axis": {"y": "independent"}}
    }
  ]
}
